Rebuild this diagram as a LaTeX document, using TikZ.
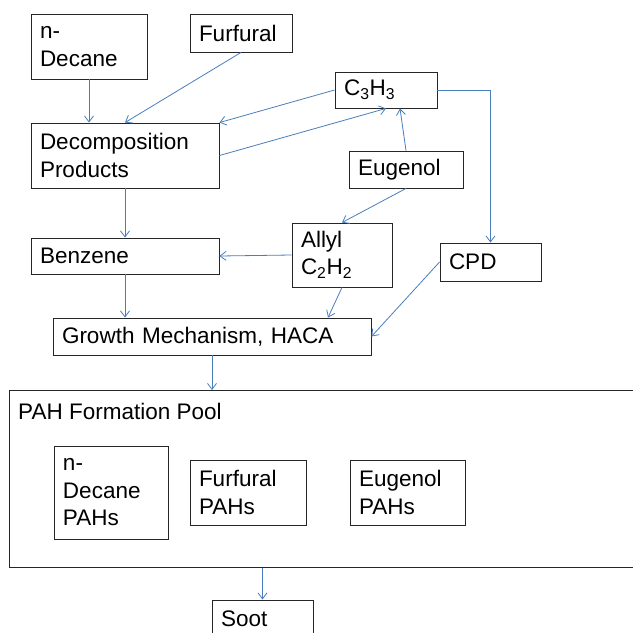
\documentclass[tikz,border=0pt]{standalone}
\usepackage{fontspec}
\setmainfont{Liberation Sans}
\usetikzlibrary{arrows.meta}
\definecolor{linkblue}{HTML}{4A7EBB}

\begin{document}
\begin{tikzpicture}[x=1pt,y=-1pt,
        box/.style={draw=black!85, line width=0.9pt, inner xsep=9pt, inner ysep=0pt,
            align=left, font={\fontsize{22.5}{27.5}\selectfont}},
        link/.style={draw=linkblue, line width=0.8pt, -{Straight Barb[length=6pt,width=9pt]}}]
        % поле
        \useasboundingbox (0,0) rectangle (633,633);
        \clip (0,0) rectangle (633,633);

        % исходные вещества
        \node[box, text width=98pt, minimum height=65pt] (ndec) at (89,46.5) {n-\\Decane};
        \node[box, text width=84pt, minimum height=38pt] (furf) at (241,33) {Furfural};
        \node[box, text width=84pt, minimum height=36pt] (c3h3) at (386,90) {C\textsubscript{3}H\textsubscript{3}};
        \node[box, text width=170pt, minimum height=65pt] (decomp) at (125,155.5) {Decomposition\\Products};
        \node[box, text width=96pt, minimum height=37pt] (eug) at (406,169.5) {Eugenol};
        \node[box, text width=82pt, minimum height=64pt] (allyl) at (342,255) {Allyl\\C\textsubscript{2}H\textsubscript{2}};
        \node[box, text width=170pt, minimum height=36pt] (benz) at (125,256) {Benzene};
        \node[box, text width=83pt, minimum height=38pt] (cpd) at (490.5,262) {CPD};
        \node[box, text width=300pt, minimum height=37pt] (growth) at (212,336.5) {Growth Mechanism, HACA};

        % пул ПАУ
        \node[box, anchor=north west, inner sep=0pt, minimum width=660pt, minimum height=177pt] (pool) at (9,390) {};
        \node[anchor=north west, inner sep=0pt, font={\fontsize{22.5}{27.5}\selectfont}] (poollbl)
            at ([xshift=9pt,yshift=-13pt]pool.north west) {PAH Formation Pool};
        \node[box, text width=96pt, minimum height=93pt] (ndpah) at (111,492.5) {n-\\Decane\\PAHs};
        \node[box, text width=98pt, minimum height=65pt] (fupah) at (248,492.5) {Furfural\\PAHs};
        \node[box, text width=97pt, minimum height=65pt] (eupah) at (407.5,492.5) {Eugenol\\PAHs};

        \node[box, text width=83pt, minimum height=37pt] (soot) at (262.5,618.5) {Soot};

        % стрелки
        \draw[link] (ndec.south) -- (ndec.south |- decomp.north);
        \draw[link] (furf.south) -- (decomp.north);
        \draw[link] (c3h3.west) -- (decomp.north east);
        \draw[link] (decomp.east) -- (c3h3.south);
        \draw[link] (eug.north) -- ([xshift=14pt]c3h3.south);
        \draw[link] (eug.south) -- (allyl.north);
        \draw[link] (allyl.west) -- (benz.east);
        \draw[link] (c3h3.east) -| (cpd.north);
        \draw[link] (decomp.south) -- (benz.north);
        \draw[link] (benz.south) -- (benz.south |- growth.north);
        \draw[link] (allyl.south) -- ([xshift=-14pt]allyl.south |- growth.north);
        \draw[link] (cpd.west) -- (growth.east);
        \draw[link] (growth.south) -- (growth.south |- pool.north);
        \draw[link] (soot.north |- pool.south) -- (soot.north);
\end{tikzpicture}
\end{document}
